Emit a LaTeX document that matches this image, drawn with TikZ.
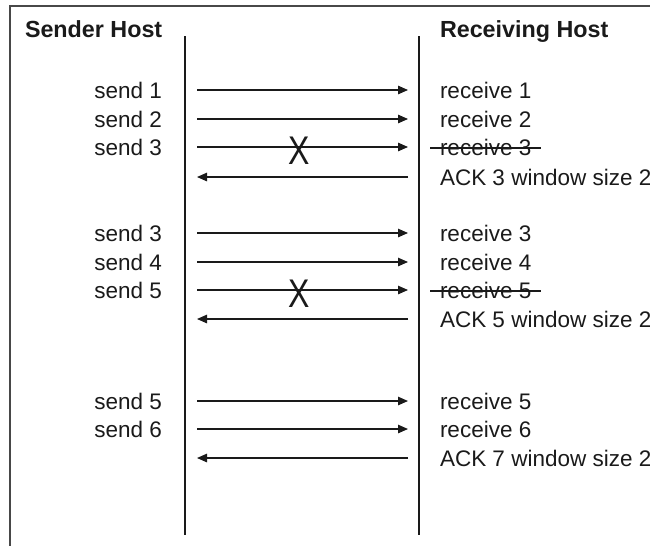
\documentclass[tikz,border=0pt]{standalone}
\usepackage{fontspec}
\setmainfont{Liberation Sans}
\usetikzlibrary{arrows.meta,calc}
\definecolor{ink}{HTML}{1A1A1A}
\begin{document}
\begin{tikzpicture}[x=1pt,y=-1pt,
  every node/.style={inner sep=0pt,outer sep=0pt,text=ink},
  label/.style={font=\fontsize{22.5}{26}\selectfont},
  sendlbl/.style={label,anchor=base east},
  recvlbl/.style={label,anchor=base west},
  header/.style={font=\fontsize{23.3}{27}\selectfont\bfseries,anchor=base west},
  lifeline/.style={draw=ink,line width=2.5pt},
  msg/.style={draw=ink,line width=1.2pt,-{Triangle[length=10pt,width=8.5pt]}},
  strike/.style={draw=ink,line width=1.2pt},
  lost/.style={font=\fontsize{40}{44}\selectfont,xscale=0.8},
  frame/.style={draw=ink!80,line width=1.6pt}]
\useasboundingbox (0,0) rectangle (650,546);

% outer frame (top and left edges)
\coordinate (ftl) at (10,6);
\coordinate (ftr) at (650,6);
\coordinate (fbl) at (10,546);
\draw[frame] (ftr) -- (ftl) -- (fbl);

% headers
\node[header] (hs) at (25,37) {Sender Host};
\node[header] (hr) at (440,37) {Receiving Host};

% lifelines
\coordinate (lt) at (185,36);
\coordinate (lb) at (185,535);
\coordinate (rt) at (419,36);
\coordinate (rb) at (419,535);
\draw[lifeline] (lt) -- (lb);
\draw[lifeline] (rt) -- (rb);

% arrow end points per row
\foreach \n/\y in {1/90,2/119,3/147,4/177,5/233,6/262,7/290,8/319,9/401,10/429,11/458}{
  \coordinate (a\n) at (197,\y);
  \coordinate (b\n) at (408,\y);
}

% sender labels
\node[sendlbl] (s1) at (162,98)  {send 1};
\node[sendlbl] (s2) at (162,127) {send 2};
\node[sendlbl] (s3) at (162,155) {send 3};
\node[sendlbl] (s5) at (162,241) {send 3};
\node[sendlbl] (s6) at (162,270) {send 4};
\node[sendlbl] (s7) at (162,298) {send 5};
\node[sendlbl] (s9) at (162,409) {send 5};
\node[sendlbl] (s10) at (162,437) {send 6};

% receiver labels
\node[recvlbl] (r1) at (440,98)  {receive 1};
\node[recvlbl] (r2) at (440,127) {receive 2};
\node[recvlbl] (r3) at (440,155) {receive 3};
\node[recvlbl] (r4) at (440,185) {ACK 3 window size 2};
\node[recvlbl] (r5) at (440,241) {receive 3};
\node[recvlbl] (r6) at (440,270) {receive 4};
\node[recvlbl] (r7) at (440,298) {receive 5};
\node[recvlbl] (r8) at (440,327) {ACK 5 window size 2};
\node[recvlbl] (r9) at (440,409) {receive 5};
\node[recvlbl] (r10) at (440,437) {receive 6};
\node[recvlbl] (r11) at (440,466) {ACK 7 window size 2};

% messages
\foreach \n in {1,2,3,5,6,7,9,10}{\draw[msg] (a\n) -- (b\n);}
\foreach \n in {4,8,11}{\draw[msg] (b\n) -- (a\n);}

% lost segments
\node[lost] (x1) at (299,151) {X};
\node[lost] (x2) at (299,294) {X};
\draw[strike] ($(r3.base west)+(-10,-7)$) -- ($(r3.base east)+(10,-7)$);
\draw[strike] ($(r7.base west)+(-10,-7)$) -- ($(r7.base east)+(10,-7)$);
\end{tikzpicture}
\end{document}
